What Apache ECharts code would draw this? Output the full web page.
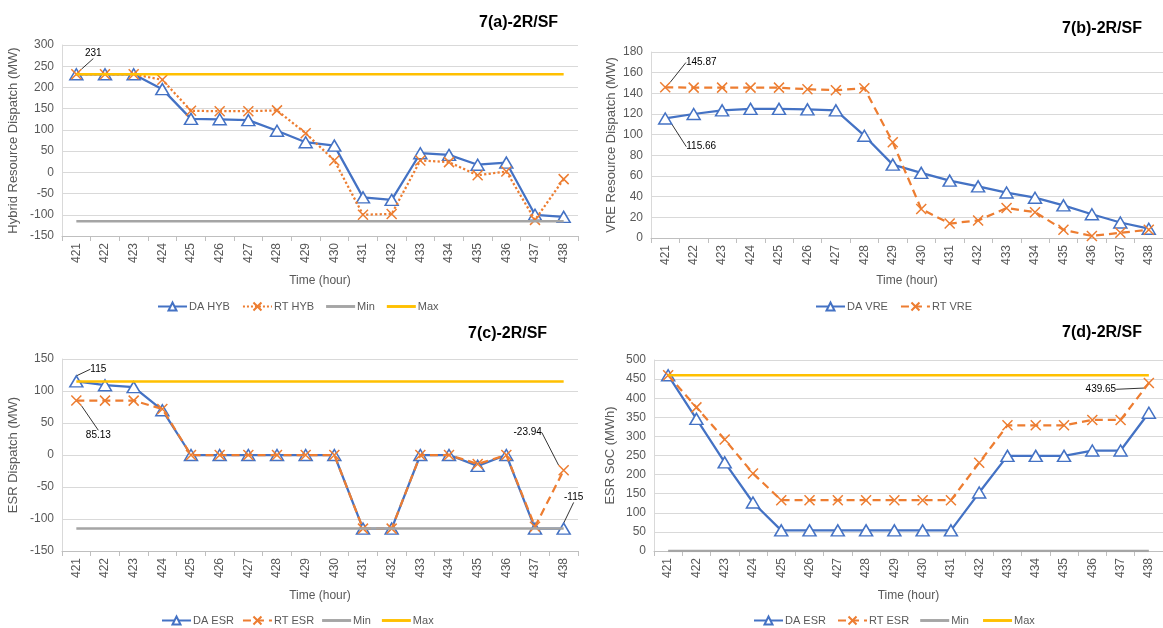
<!DOCTYPE html>
<html><head><meta charset="utf-8">
<script src="https://cdn.jsdelivr.net/npm/echarts@6/dist/echarts.min.js"></script>
<style>html,body{margin:0;padding:0;background:#fff;}#c{width:1163px;height:628px;}</style>
</head><body><div id="c"></div>
<script>
// ---------- data ----------
const hours = ['421','422','423','424','425','426','427','428','429','430','431','432','433','434','435','436','437','438'];

// 7(a) hybrid resource dispatch (MW)
const daHYB = [231,231,231,196,126,125,123,98,71,63,-59,-65,45,41,18,23,-100,-105];
const rtHYB = [231,231,231,218,145,144,144,146,92,28,-100,-98,28,24,-7,2,-112,-16];
const minA = Array(18).fill(-115);
const maxA = Array(18).fill(231);

// 7(b) VRE resource dispatch (MW)
const daVRE = [115.66,120,123.5,125,125,124.5,123.5,99,71,63,55.5,50,44,39,31.6,23,15,9];
const rtVRE = [145.87,145.5,145.5,145.5,145.5,144,143,145,92.6,28,14,17,29,25,8,2,5,8];

// 7(c) ESR dispatch (MW)
const daESR = [115,109,106,70,0,0,0,0,0,0,-115,-115,0,0,-17,0,-115,-115];
const rtESR = [85.13,85,85,72,0,0,0,0,0,0,-115,-115,0,0,-14,0,-112,-23.94];
const minC = Array(18).fill(-115);
const maxC = Array(18).fill(115);

// 7(d) ESR state of charge (MWh)
const daSoC = [460,346,232,127,54,54,54,54,54,54,54,153,249,249,249,263,263,362];
const rtSoC = [460,376,292,203,133,133,133,133,133,133,133,231,329,329,329,343,343,439.65];
const minD = Array(18).fill(0);
const maxD = Array(18).fill(460);

// ---------- styling ----------
const BLUE='#4472C4', ORANGE='#ED7D31', GREY='#A5A5A5', GOLD='#FFC000';
const FONT='Liberation Sans';
const XSYM='path://M0,0L10,10M10,0L0,10';
const BAR='path://M0,0L30,0L30,3L0,3Z';

const grids = [
  {left:62, top:45, width:516, height:191},
  {left:651, top:52, width:513, height:186},
  {left:62, top:359, width:516, height:192},
  {left:654, top:360, width:517, height:191}
];
const yCfg = [
  {min:-150,max:300,interval:50,name:'Hybrid Resource Dispatch (MW)',gap:42},
  {min:0,max:180,interval:20,name:'VRE Resource Dispatch (MW)',gap:33},
  {min:-150,max:150,interval:50,name:'ESR Dispatch (MW)',gap:42},
  {min:0,max:500,interval:50,name:'ESR SoC (MWh)',gap:37}
];

function lbl(val, pos){
  return {value:val, label:{show:true, position:pos, formatter:String(val), color:'#000', fontSize:10, fontFamily:FONT},
          labelLine:{show:true, lineStyle:{color:'#000', width:0.8}}};
}
function withLabels(arr, map){
  return arr.map((v,i)=> map[i] ? lbl(v, map[i].pos) : v);
}
function layoutFor(map){
  return function(p){ const m = map[p.dataIndex]; return m ? {dx:m.dx, dy:m.dy} : {}; };
}

function da(name, data, gi, map){
  const s = {name, type:'line', xAxisIndex:gi, yAxisIndex:gi, data: map? withLabels(data,map):data,
    symbol:'triangle', symbolSize:[13,11],
    lineStyle:{color:BLUE, width:2.25}, itemStyle:{color:'#fff', borderColor:BLUE, borderWidth:1.5},
    label:{show:false}, z:2};
  if(map) s.labelLayout = layoutFor(map);
  return s;
}
function rt(name, data, gi, dash, map){
  const s = {name, type:'line', xAxisIndex:gi, yAxisIndex:gi, data: map? withLabels(data,map):data,
    symbol:XSYM, symbolSize:10,
    lineStyle:{color:ORANGE, width:2.25, type:dash}, itemStyle:{color:ORANGE, borderColor:ORANGE, borderWidth:1.5},
    label:{show:false}, z:3};
  if(map) s.labelLayout = layoutFor(map);
  return s;
}
function flat(name, data, gi, color){
  return {name, type:'line', xAxisIndex:gi, yAxisIndex:gi, data, symbol:'none', showSymbol:false,
    lineStyle:{color, width:2.5}, itemStyle:{color}, z:4, silent:true};
}

const xAxes = grids.map((g,i)=>({
  gridIndex:i, type:'category', data:hours, boundaryGap:true,
  name:'Time (hour)', nameLocation:'middle', nameGap:[39,37,39,39][i],
  nameTextStyle:{color:'#595959', fontSize:12, fontFamily:FONT},
  axisLine:{onZero:false, lineStyle:{color:'#BFBFBF', width:1}},
  axisTick:{show:true, alignWithLabel:false, length:5, lineStyle:{color:'#BFBFBF'}},
  axisLabel:{rotate:90, color:'#595959', fontSize:12, fontFamily:FONT, margin:7, interval:0},
  splitLine:{show:false}
}));
const yAxes = yCfg.map((c,i)=>({
  gridIndex:i, type:'value', min:c.min, max:c.max, interval:c.interval,
  name:c.name, nameLocation:'middle', nameGap:c.gap,
  nameTextStyle:{color:'#595959', fontSize:13, fontFamily:FONT},
  axisLine:{show:true, lineStyle:{color:'#D9D9D9'}}, axisTick:{show:false},
  axisLabel:{color:'#595959', fontSize:12, fontFamily:FONT, margin:8},
  splitLine:{lineStyle:{color:'#D9D9D9', width:1}}
}));

const titleStyle = {fontSize:16, fontWeight:'bold', color:'#000', fontFamily:FONT};
const legText = {color:'#595959', fontSize:11, fontFamily:FONT, padding:[0,0,0,-3]};
function legend(names, left, top, gap){
  return {data:names.map(n => /^(Min|Max)/.test(n) ? {name:n, icon:BAR} : {name:n}),
    left, top, itemWidth:29, itemHeight:10, itemGap:gap, textStyle:legText, selectedMode:false};
}

const option = {
  animation:false,
  backgroundColor:'#fff',
  title:[
    {text:'7(a)-2R/SF', left:474, top:10, textStyle:titleStyle},
    {text:'7(b)-2R/SF', left:1057, top:16, textStyle:titleStyle},
    {text:'7(c)-2R/SF', left:463, top:321, textStyle:titleStyle},
    {text:'7(d)-2R/SF', left:1057, top:320, textStyle:titleStyle}
  ],
  legend:[
    legend(['DA HYB','RT HYB','Min','Max'], 152, 296, 12),
    legend(['DA VRE','RT VRE'], 810, 296, 12),
    legend(['DA ESR','RT ESR','Min ','Max '], 156, 610, 8),
    legend(['DA ESR ','RT ESR ','Min  ','Max  '], 748, 610, 8)
  ],
  grid:grids,
  xAxis:xAxes,
  yAxis:yAxes,
  series:[
    da('DA HYB', daHYB, 0),
    rt('RT HYB', rtHYB, 0, 'dotted', {0:{pos:'top',dx:17,dy:-5}}),
    flat('Min', minA, 0, GREY),
    flat('Max', maxA, 0, GOLD),

    da('DA VRE', daVRE, 1, {0:{pos:'bottom',dx:36,dy:12}}),
    rt('RT VRE', rtVRE, 1, [8,5], {0:{pos:'top',dx:36,dy:-9}}),

    da('DA ESR', daESR, 2, {0:{pos:'top',dx:22,dy:4}, 17:{pos:'top',dx:10,dy:-15}}),
    rt('RT ESR', rtESR, 2, [8,5], {0:{pos:'bottom',dx:22,dy:19}, 17:{pos:'top',dx:-36,dy:-22}}),
    flat('Min ', minC, 2, GREY),
    flat('Max ', maxC, 2, GOLD),

    da('DA ESR ', daSoC, 3),
    rt('RT ESR ', rtSoC, 3, [8,5], {17:{pos:'top',dx:-48,dy:22}}),
    flat('Min  ', minD, 3, GREY),
    flat('Max  ', maxD, 3, GOLD)
  ]
};
const chart = echarts.init(document.getElementById('c'), null, {renderer:'canvas'});
chart.setOption(option);
</script>
</body></html>
